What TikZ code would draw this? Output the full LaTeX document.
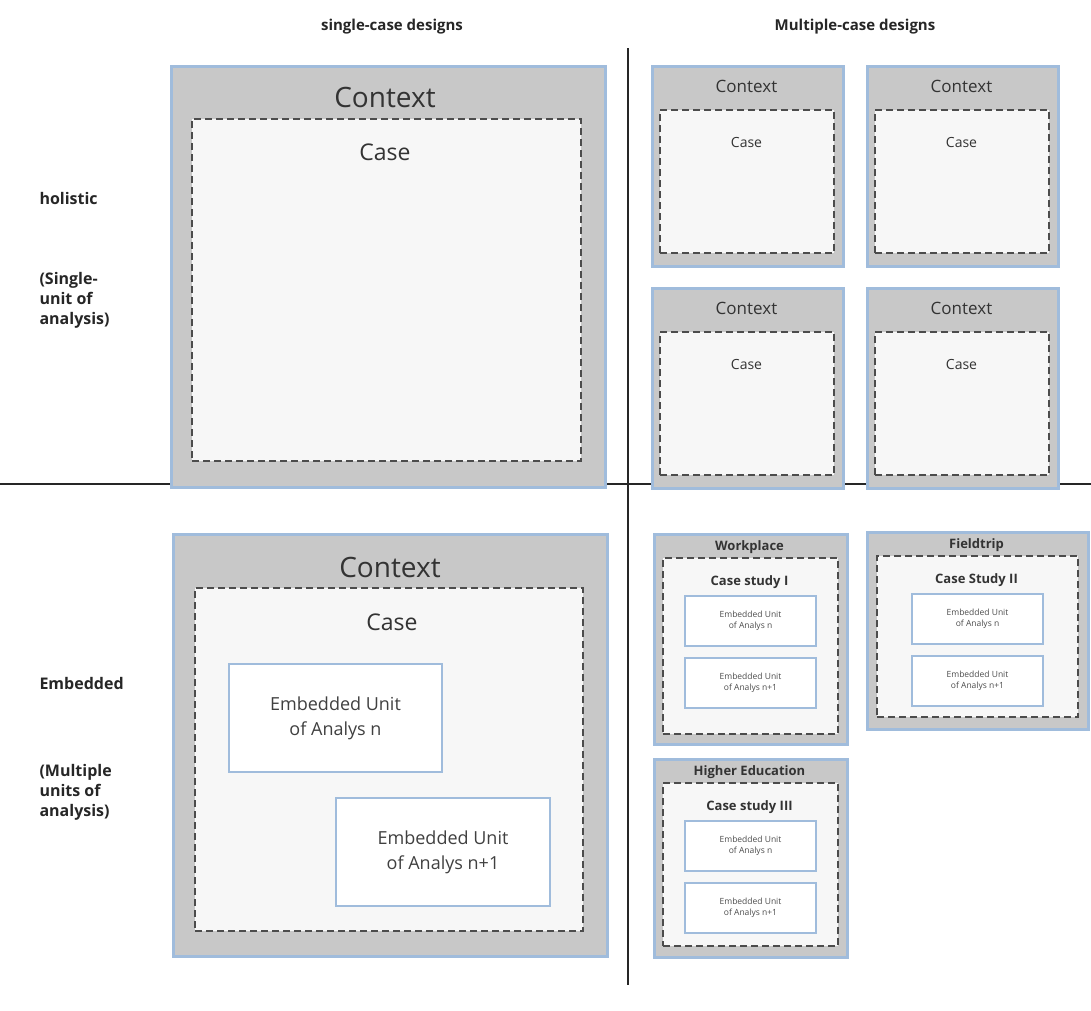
\documentclass[tikz,border=0pt]{standalone}
\usepackage{fontspec}
\setmainfont{Open Sans}
\definecolor{bb}{RGB}{160,188,220}
\definecolor{gr}{RGB}{200,200,200}
\begin{document}
\begin{tikzpicture}[x=1pt,y=-1pt,
 outer/.style={draw=bb, line width=2.5pt, fill=gr, anchor=north west, inner sep=0pt},
 inner/.style={draw=black!70, dash pattern=on 7pt off 4pt, line width=2pt, fill=black!3, anchor=north west, inner sep=0pt},
 emb/.style={draw=bb, line width=2pt, fill=white, anchor=north west, inner sep=0pt},
 hd/.style={font=\bfseries\fontsize{15}{17}\selectfont, text=black!85},
 lab/.style={font=\bfseries\fontsize{16}{20}\selectfont, anchor=west, align=left, text=black!85},
 t/.style={text=black!80}]
\useasboundingbox (0,0) rectangle (1091,1010);
% headers
\node[hd] (h1) at (392,27) {single-case designs};
\node[hd] (h2) at (855,27) {Multiple-case designs};
% dividers
\coordinate (v1) at (628,48); \coordinate (v2) at (628,985);
\coordinate (l1) at (0,484); \coordinate (l2) at (1091,484);
\draw[line width=2.5pt, black!85] (v1) -- (v2);
\draw[line width=2.5pt, black!85] (l1) -- (l2);
% row labels
\node[lab] (r1) at (36,198) {holistic};
\node[lab] (r2) at (36,300) {(Single-\\unit of\\analysis)};
\node[lab] (r3) at (36,683) {Embedded};
\node[lab] (r4) at (36,792) {(Multiple\\units of\\analysis)};
% top-left
\node[outer, minimum width=434, minimum height=421] (tlo) at (170,65) {};
\node[t, font=\fontsize{28}{30}\selectfont] (tlc) at (385,97) {Context};
\node[inner, minimum width=389, minimum height=342] (tli) at (191,118) {};
\node[t, font=\fontsize{23}{25}\selectfont] (tlcase) at (385,152) {Case};
% top-right four
\foreach \x/\y/\n in {651/65/a,866/65/b,651/287/c,866/287/d}{
 \node[outer, minimum width=191, minimum height=200] (o\n) at (\x,\y) {};
 \node[t, font=\fontsize{17}{19}\selectfont] (c\n) at (\x+95.5,\y+21) {Context};
 \node[inner, minimum width=174, minimum height=143] (i\n) at (\x+8,\y+44) {};
 \node[t, font=\fontsize{14}{16}\selectfont] (k\n) at (\x+95.5,\y+77) {Case};
}
% bottom-left
\node[outer, minimum width=434, minimum height=422] (blo) at (172,533) {};
\node[t, font=\fontsize{28}{30}\selectfont] (blc) at (390,567) {Context};
\node[inner, minimum width=388, minimum height=343] (bli) at (194,587) {};
\node[t, font=\fontsize{23}{25}\selectfont] (blcase) at (392,622) {Case};
\node[emb, minimum width=213, minimum height=108] (be1) at (228,663) {};
\node[align=center, text=black!75, font=\fontsize{18}{25}\selectfont] at (be1.center) {Embedded Unit\\of Analys n};
\node[emb, minimum width=214, minimum height=108] (be2) at (335,797) {};
\node[align=center, text=black!75, font=\fontsize{18}{25}\selectfont] at (be2.center) {Embedded Unit\\of Analys n+1};
% bottom-right
\foreach \x/\y/\w/\h/\iw/\ih/\ti/\cs/\n in {653/533/193/210/175/176/Workplace/Case study I/w, 866/531/221/197/201/161/Fieldtrip/Case Study II/f, 653/758/193/198/175/163/Higher Education/Case study III/e}{
 \node[outer, minimum width=\w, minimum height=\h] (o\n) at (\x,\y) {};
 \node[t, font=\bfseries\fontsize{13}{15}\selectfont] (t\n) at (\x+\w/2,\y+14) {\ti};
 \node[inner, minimum width=\iw, minimum height=\ih] (i\n) at (\x+\w/2-\iw/2,\y+24) {};
 \node[t, font=\bfseries\fontsize{13}{15}\selectfont] (s\n) at (\x+\w/2,\y+49) {\cs};
 \node[emb, minimum width=131, minimum height=50] (e1\n) at (\x+\w/2-65.5,\y+62) {};
 \node[align=center, text=black!70, font=\fontsize{8.5}{11}\selectfont] at (e1\n.center) {Embedded Unit\\of Analys n};
 \node[emb, minimum width=131, minimum height=50] (e2\n) at (\x+\w/2-65.5,\y+124) {};
 \node[align=center, text=black!70, font=\fontsize{8.5}{11}\selectfont] at (e2\n.center) {Embedded Unit\\of Analys n+1};
}
\end{tikzpicture}
\end{document}
